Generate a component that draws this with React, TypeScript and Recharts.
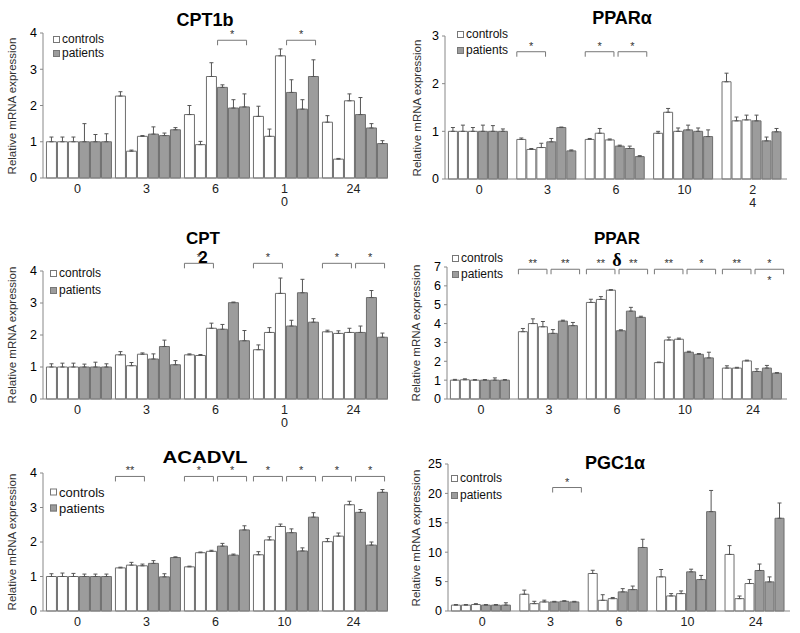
import React from "react";
import { BarChart, Bar, XAxis, YAxis, ErrorBar, ReferenceArea } from "recharts";

// hours after exposure
const timePoints = ["0", "3", "6", "10", "24"];

// each row = one time point, three subjects per group
const cpt1bControls = [[1, 1, 1], [2.26, 0.74, 1.15], [1.75, 0.92, 2.8], [1.7, 1.15, 3.37], [1.54, 0.52, 2.13]];
const cpt1bControlsErr = [[0.13, 0.13, 0.13], [0.12, 0.03, 0.02], [0.25, 0.09, 0.38], [0.28, 0.2, 0.19], [0.18, 0.02, 0.19]];
const cpt1bPatients = [[1, 1, 1], [1.21, 1.17, 1.33], [2.5, 1.93, 1.96], [2.36, 1.9, 2.8], [1.75, 1.38, 0.95]];
const cpt1bPatientsErr = [[0.5, 0.2, 0.22], [0.2, 0.07, 0.06], [0.07, 0.23, 0.36], [0.35, 0.26, 0.46], [0.47, 0.12, 0.08]];

const pparaControls = [[1, 1, 1], [0.83, 0.62, 0.66], [0.83, 0.96, 0.82], [0.96, 1.4, 1.0], [2.04, 1.22, 1.24]];
const pparaControlsErr = [[0.08, 0.13, 0.08], [0.03, 0.02, 0.09], [0.02, 0.1, 0.02], [0.04, 0.08, 0.07], [0.18, 0.08, 0.1]];
const pparaPatients = [[1, 1, 1], [0.78, 1.08, 0.59], [0.69, 0.64, 0.47], [1.03, 1.0, 0.89], [1.22, 0.8, 0.99]];
const pparaPatientsErr = [[0.13, 0.12, 0.05], [0.07, 0.01, 0.02], [0.02, 0.05, 0.02], [0.1, 0.07, 0.14], [0.12, 0.08, 0.07]];

const cpt2Controls = [[1, 1, 1], [1.38, 1.04, 1.4], [1.38, 1.36, 2.21], [1.54, 2.08, 3.3], [2.1, 2.05, 2.08]];
const cpt2ControlsErr = [[0.1, 0.12, 0.12], [0.1, 0.1, 0.04], [0.03, 0.03, 0.16], [0.15, 0.15, 0.48], [0.05, 0.08, 0.13]];
const cpt2Patients = [[1, 1, 1], [1.25, 1.64, 1.07], [2.18, 3.01, 1.82], [2.28, 3.32, 2.4], [2.08, 3.17, 1.93]];
const cpt2PatientsErr = [[0.09, 0.15, 0.1], [0.16, 0.2, 0.13], [0.15, 0.02, 0.32], [0.18, 0.42, 0.11], [0.2, 0.22, 0.13]];

const ppardControls = [[1, 1.02, 1], [3.57, 4.0, 3.83], [5.12, 5.28, 5.77], [1.93, 3.13, 3.17], [1.64, 1.64, 2.02]];
const ppardControlsErr = [[0.04, 0.05, 0.03], [0.17, 0.25, 0.28], [0.17, 0.15, 0.03], [0.03, 0.15, 0.06], [0.12, 0.04, 0.04]];
const ppardPatients = [[1, 1, 1], [3.48, 4.13, 3.89], [3.62, 4.66, 4.33], [2.48, 2.37, 2.18], [1.46, 1.64, 1.37]];
const ppardPatientsErr = [[0.03, 0.12, 0.03], [0.2, 0.05, 0.17], [0.05, 0.2, 0.06], [0.05, 0.04, 0.3], [0.14, 0.14, 0.03]];

const acadvlControls = [[1, 1, 1], [1.25, 1.33, 1.31], [1.28, 1.69, 1.73], [1.63, 2.06, 2.45], [2.01, 2.17, 3.08]];
const acadvlControlsErr = [[0.08, 0.1, 0.09], [0.02, 0.08, 0.05], [0.02, 0.02, 0.03], [0.09, 0.09, 0.07], [0.09, 0.09, 0.1]];
const acadvlPatients = [[1, 1, 1], [1.38, 0.99, 1.55], [1.88, 1.62, 2.35], [2.27, 1.74, 2.72], [2.86, 1.91, 3.44]];
const acadvlPatientsErr = [[0.07, 0.07, 0.07], [0.08, 0.09, 0.02], [0.08, 0.03, 0.12], [0.11, 0.09, 0.13], [0.08, 0.09, 0.08]];

const pgc1aControls = [[1, 1, 1.1], [2.85, 1.25, 1.54], [6.38, 1.82, 2.1], [5.81, 2.56, 2.96], [9.62, 2.1, 4.67]];
const pgc1aControlsErr = [[0.1, 0.1, 0.15], [0.7, 0.4, 0.3], [0.55, 0.95, 0.2], [1.25, 0.4, 0.45], [1.5, 0.45, 0.7]];
const pgc1aPatients = [[1, 1, 1], [1.54, 1.65, 1.54], [3.25, 3.64, 10.8], [6.66, 5.35, 16.9], [6.89, 4.95, 15.77]];
const pgc1aPatientsErr = [[0.1, 0.1, 0.4], [0.1, 0.1, 0.1], [0.55, 0.6, 1.4], [0.45, 0.7, 3.6], [1.1, 0.85, 2.6]];

// tick labels as printed (Excel wrapped some of them)
const cpt1bTickLabels = ["0", "3", "6", "1\n0", "24"];
const pparaTickLabels = ["0", "3", "6", "10", "2\n4"];
const cpt2TickLabels = ["0", "3", "6", "1\n0", "24"];
const plainTickLabels = ["0", "3", "6", "10", "24"];

const cpt1bTicks = [0, 1, 2, 3, 4];
const pparaTicks = [0, 1, 2, 3];
const cpt2Ticks = [0, 1, 2, 3, 4];
const ppardTicks = [0, 1, 2, 3, 4, 5, 6, 7];
const acadvlTicks = [0, 1, 2, 3, 4];
const pgc1aTicks = [0, 5, 10, 15, 20, 25];

// significance brackets: time point, which half (controls / patients), mark
type Sig = { time: string; side: "c" | "p"; label: string };

const cpt1bSig: Sig[] = [
  { time: "6", side: "p", label: "*" },
  { time: "10", side: "p", label: "*" },
];
const pparaSig: Sig[] = [
  { time: "3", side: "c", label: "*" },
  { time: "6", side: "c", label: "*" },
  { time: "6", side: "p", label: "*" },
];
const cpt2Sig: Sig[] = [
  { time: "6", side: "c", label: "*" },
  { time: "10", side: "c", label: "*" },
  { time: "24", side: "c", label: "*" },
  { time: "24", side: "p", label: "*" },
];
const ppardSig: Sig[] = [
  { time: "3", side: "c", label: "**" },
  { time: "3", side: "p", label: "**" },
  { time: "6", side: "c", label: "**" },
  { time: "6", side: "p", label: "**" },
  { time: "10", side: "c", label: "**" },
  { time: "10", side: "p", label: "*" },
  { time: "24", side: "c", label: "**" },
  { time: "24", side: "p", label: "*\n*" },
];
const acadvlSig: Sig[] = [
  { time: "3", side: "c", label: "**" },
  { time: "6", side: "c", label: "*" },
  { time: "6", side: "p", label: "*" },
  { time: "10", side: "c", label: "*" },
  { time: "10", side: "p", label: "*" },
  { time: "24", side: "c", label: "*" },
  { time: "24", side: "p", label: "*" },
];
const pgc1aSig: Sig[] = [{ time: "3", side: "p", label: "*" }];

const FONT = '"Liberation Sans", Arial, sans-serif';
const CHART_H = 230;
const PATIENT_FILL = "#9c9c9c";
const EDGE = "#6e6e6e";

function buildRows(c: number[][], ce: number[][], p: number[][], pe: number[][]) {
  return timePoints.map((t, i) => ({
    time: t,
    c1: c[i][0], c2: c[i][1], c3: c[i][2],
    p1: p[i][0], p2: p[i][1], p3: p[i][2],
    c1e: [0, ce[i][0]], c2e: [0, ce[i][1]], c3e: [0, ce[i][2]],
    p1e: [0, pe[i][0]], p2e: [0, pe[i][1]], p3e: [0, pe[i][2]],
  }));
}

function WrapTick(props: any) {
  const { x, y, payload, labels } = props;
  const idx = timePoints.indexOf(String(payload.value));
  const lines = (labels[idx] ?? String(payload.value)).split("\n");
  return (
    <text x={x} y={y} textAnchor="middle" fontSize={12.5} fill="#222" fontFamily={FONT}>
      {lines.map((l: string, k: number) => (
        <tspan key={k} x={x} dy={k === 0 ? "0.72em" : 13}>
          {l}
        </tspan>
      ))}
    </text>
  );
}

// the area spans the whole category band; the bracket covers one half of it
function BracketShape(props: any) {
  const { x, y, width, side, text } = props;
  const x0 = x + width * (side === "c" ? 0.05 : 0.53);
  const x1 = x + width * (side === "c" ? 0.47 : 0.95);
  const lines = String(text).split("\n");
  const cx = (x0 + x1) / 2;
  return (
    <g>
      <path d={`M${x0},${y + 5}V${y}H${x1}V${y + 5}`} fill="none" stroke="#777" strokeWidth={1} />
      <text x={cx} y={y - 2} textAnchor="middle" fontSize={11} fill="#333" fontFamily={FONT}>
        {lines[0]}
      </text>
      {lines[1] && (
        <text x={cx} y={y + 15} textAnchor="middle" fontSize={11} fill="#333" fontFamily={FONT}>
          {lines[1]}
        </text>
      )}
    </g>
  );
}

type Title = { text: string; x: number; y: number; size: number; serif?: boolean; stretch?: number };

type PanelProps = {
  left: number;
  top: number;
  rows: any[];
  yMax: number;
  yTicks: number[];
  tickLabels: string[];
  sig: Sig[];
  sigY: number;
  plot: { l: number; r: number; t: number; b: number };
  yLabelX: number;
  legend: { x: number; y1: number; y2: number; size: number };
  titles: Title[];
};

function Panel({ left, top, rows, yMax, yTicks, tickLabels, sig, sigY, plot, yLabelX, legend, titles }: PanelProps) {
  const yAxisW = 22;
  const margin = { top: plot.t, right: 400 - plot.r, bottom: CHART_H - plot.b - 20, left: plot.l - yAxisW };
  const bars = [
    { key: "c1", fill: "#ffffff" },
    { key: "c2", fill: "#ffffff" },
    { key: "c3", fill: "#ffffff" },
    { key: "p1", fill: PATIENT_FILL },
    { key: "p2", fill: PATIENT_FILL },
    { key: "p3", fill: PATIENT_FILL },
  ];
  return (
    <div style={{ position: "absolute", left, top, width: 400, height: CHART_H }}>
      <BarChart width={400} height={CHART_H} data={rows} margin={margin} barCategoryGap="5%" barGap={1}>
        <XAxis
          dataKey="time"
          height={20}
          axisLine={{ stroke: "#888" }}
          tickLine={false}
          tickSize={0}
          tickMargin={6}
          interval={0}
          tick={<WrapTick labels={tickLabels} />}
        />
        <YAxis
          width={yAxisW}
          domain={[0, yMax]}
          ticks={yTicks}
          interval={0}
          tickSize={3}
          tickMargin={3}
          axisLine={{ stroke: "#888" }}
          tickLine={{ stroke: "#888" }}
          tick={{ fontSize: 12.5, fill: "#000", fontFamily: FONT }}
        />
        {bars.map((b) => (
          <Bar key={b.key} dataKey={b.key} fill={b.fill} stroke={EDGE} strokeWidth={1} isAnimationActive={false}>
            <ErrorBar dataKey={b.key + "e"} width={2} stroke="#555" strokeWidth={1} direction="y" />
          </Bar>
        ))}
        {sig.map((s, i) => (
          <ReferenceArea
            key={i}
            x1={s.time}
            x2={s.time}
            y1={sigY}
            y2={sigY}
            ifOverflow="visible"
            shape={(p: any) => <BracketShape {...p} side={s.side} text={s.label} />}
          />
        ))}
      </BarChart>

      {titles.map((t, i) => (
        <div
          key={i}
          style={{
            position: "absolute",
            left: t.x,
            top: t.y,
            transform: `translate(-50%, -50%) scaleX(${t.stretch ?? 1})`,
            fontFamily: t.serif ? '"Liberation Serif", serif' : FONT,
            fontWeight: "bold",
            fontSize: t.size,
            lineHeight: 1,
            whiteSpace: "nowrap",
            color: "#000",
          }}
        >
          {t.text}
        </div>
      ))}

      <div
        style={{
          position: "absolute",
          left: yLabelX,
          top: (plot.t + plot.b) / 2,
          transform: "translate(-50%, -50%) rotate(-90deg)",
          fontFamily: FONT,
          fontSize: 11.5,
          color: "#333",
          whiteSpace: "nowrap",
          lineHeight: 1,
        }}
      >
        Relative mRNA expression
      </div>

      {[
        { y: legend.y1, fill: "#ffffff", text: "controls" },
        { y: legend.y2, fill: PATIENT_FILL, text: "patients" },
      ].map((item) => (
        <div
          key={item.text}
          style={{
            position: "absolute",
            left: legend.x,
            top: item.y,
            transform: "translateY(-50%)",
            display: "flex",
            alignItems: "center",
            fontFamily: FONT,
            fontSize: legend.size,
            lineHeight: 1,
            color: "#111",
            whiteSpace: "nowrap",
          }}
        >
          <span
            style={{
              display: "inline-block",
              width: 5,
              height: 5,
              border: "1px solid #777",
              background: item.fill,
              marginRight: 2,
            }}
          />
          {item.text}
        </div>
      ))}
    </div>
  );
}

export default function App() {
  return (
    <div style={{ position: "absolute", left: 0, top: 0, width: 800, height: 633, background: "#fff", overflow: "hidden" }}>
      <Panel
        left={0}
        top={0}
        rows={buildRows(cpt1bControls, cpt1bControlsErr, cpt1bPatients, cpt1bPatientsErr)}
        yMax={4}
        yTicks={cpt1bTicks}
        tickLabels={cpt1bTickLabels}
        sig={cpt1bSig}
        sigY={3.8}
        plot={{ l: 43, r: 388, t: 33, b: 178 }}
        yLabelX={13}
        legend={{ x: 53, y1: 39, y2: 53, size: 12 }}
        titles={[{ text: "CPT1b", x: 205, y: 20, size: 18 }]}
      />
      <Panel
        left={400}
        top={0}
        rows={buildRows(pparaControls, pparaControlsErr, pparaPatients, pparaPatientsErr)}
        yMax={3}
        yTicks={pparaTicks}
        tickLabels={pparaTickLabels}
        sig={pparaSig}
        sigY={2.67}
        plot={{ l: 45, r: 387, t: 36, b: 179 }}
        yLabelX={18}
        legend={{ x: 57, y1: 34, y2: 50, size: 12 }}
        titles={[{ text: "PPARα", x: 222, y: 18, size: 18 }]}
      />
      <Panel
        left={0}
        top={210}
        rows={buildRows(cpt2Controls, cpt2ControlsErr, cpt2Patients, cpt2PatientsErr)}
        yMax={4}
        yTicks={cpt2Ticks}
        tickLabels={cpt2TickLabels}
        sig={cpt2Sig}
        sigY={4.24}
        plot={{ l: 43, r: 388, t: 61, b: 189 }}
        yLabelX={13}
        legend={{ x: 50, y1: 63, y2: 80, size: 12 }}
        titles={[
          { text: "CPT", x: 203, y: 28, size: 17 },
          { text: "2", x: 203, y: 47, size: 17 },
        ]}
      />
      <Panel
        left={400}
        top={210}
        rows={buildRows(ppardControls, ppardControlsErr, ppardPatients, ppardPatientsErr)}
        yMax={7}
        yTicks={ppardTicks}
        tickLabels={plainTickLabels}
        sig={ppardSig}
        sigY={6.88}
        plot={{ l: 47, r: 387, t: 57, b: 189 }}
        yLabelX={17}
        legend={{ x: 52, y1: 48, y2: 64, size: 12 }}
        titles={[
          { text: "PPAR", x: 217, y: 28, size: 17 },
          { text: "δ", x: 217, y: 50, size: 18, serif: true },
        ]}
      />
      <Panel
        left={0}
        top={420}
        rows={buildRows(acadvlControls, acadvlControlsErr, acadvlPatients, acadvlPatientsErr)}
        yMax={4}
        yTicks={acadvlTicks}
        tickLabels={plainTickLabels}
        sig={acadvlSig}
        sigY={3.9}
        plot={{ l: 43, r: 388, t: 53, b: 191 }}
        yLabelX={13}
        legend={{ x: 50, y1: 72, y2: 88, size: 13 }}
        titles={[{ text: "ACADVL", x: 205, y: 37, size: 17, stretch: 1.2 }]}
      />
      <Panel
        left={400}
        top={420}
        rows={buildRows(pgc1aControls, pgc1aControlsErr, pgc1aPatients, pgc1aPatientsErr)}
        yMax={25}
        yTicks={pgc1aTicks}
        tickLabels={plainTickLabels}
        sig={pgc1aSig}
        sigY={21}
        plot={{ l: 48, r: 390, t: 44, b: 191 }}
        yLabelX={17}
        legend={{ x: 51, y1: 58, y2: 75, size: 12 }}
        titles={[{ text: "PGC1α", x: 215, y: 43, size: 18 }]}
      />
    </div>
  );
}
